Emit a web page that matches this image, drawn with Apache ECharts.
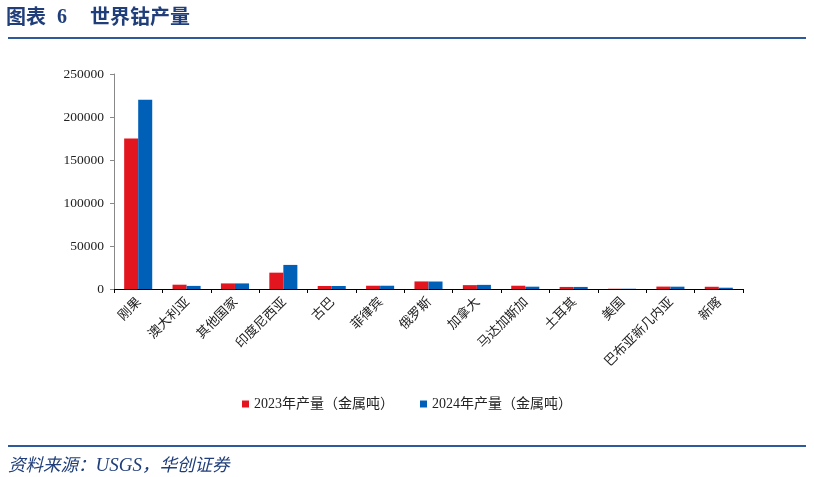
<!DOCTYPE html>
<html><head><meta charset="utf-8">
<script src="https://cdn.jsdelivr.net/npm/echarts@6/dist/echarts.min.js"></script>
<style>
html,body{margin:0;padding:0;background:#fff;}
#wrap{position:relative;width:814px;height:477px;overflow:hidden;}
#chart{position:absolute;left:0;top:0;width:814px;height:477px;}
.t{position:absolute;top:4px;font-family:"Noto Sans CJK SC","Liberation Serif",serif;font-weight:bold;font-size:20px;line-height:24px;color:#1F3E7A;white-space:nowrap;}
.line1{position:absolute;left:8px;top:37px;width:798px;height:2px;background:#2E5A9C;}
.line2{position:absolute;left:8px;top:445px;width:798px;height:2px;background:#2E5A9C;}
.src{position:absolute;left:8px;top:452px;font-family:"Noto Sans CJK SC","Liberation Serif",serif;font-style:italic;font-size:17.5px;line-height:24px;color:#1F3E7A;white-space:nowrap;}
</style></head>
<body><div id="wrap">
<div id="chart"></div>
<div class="t" style="left:6px">图表</div>
<div class="t" style="left:57px;font-family:'Liberation Serif',serif">6</div>
<div class="t" style="left:90px">世界钴产量</div>
<div class="line1"></div>
<div class="line2"></div>
<div class="src">资料来源：<span style="font-family:'Liberation Serif',serif;font-size:19px">USGS</span>，华创证券</div>
</div>
<script>
const categories = ["刚果","澳大利亚","其他国家","印度尼西亚","古巴","菲律宾","俄罗斯","加拿大","马达加斯加","土耳其","美国","巴布亚新几内亚","新喀"];
const series2023 = [175000,5000,6500,19000,3500,3800,8800,4500,3800,2400,300,2800,2600];
const series2024 = [220000,3600,6500,28000,3500,3800,8700,4800,2700,2400,300,2700,1500];
const seriesNames = ["2023年产量（金属吨）","2024年产量（金属吨）"];
const yTicks = [0,50000,100000,150000,200000,250000];

const chart = echarts.init(document.getElementById('chart'));
const font = '"Liberation Serif","Noto Sans CJK SC",serif';
chart.setOption({
  animation:false,
  grid:{left:114,right:71,top:74,bottom:188,containLabel:false},
  legend:{
    bottom:61,left:'center',itemWidth:7,itemHeight:7,itemGap:26,icon:'rect',
    textStyle:{fontFamily:font,fontSize:14,color:'#222'},
    data:seriesNames
  },
  xAxis:{
    type:'category',data:categories,
    axisLine:{lineStyle:{color:'#000',width:1}},
    axisTick:{show:true,alignWithLabel:false,length:4,lineStyle:{color:'#000'}},
    axisLabel:{rotate:45,interval:0,fontFamily:'"Noto Sans CJK SC",serif',fontSize:13,color:'#222',margin:10}
  },
  yAxis:{
    type:'value',min:yTicks[0],max:yTicks[yTicks.length-1],interval:50000,
    splitLine:{show:false},
    axisLine:{show:true,lineStyle:{color:'#888'}},
    axisTick:{show:true,length:4,lineStyle:{color:'#888'}},
    axisLabel:{fontFamily:font,fontSize:13.5,color:'#222',margin:10,formatter:function(v){return String(v);}}
  },
  series:[
    {name:seriesNames[0],type:'bar',data:series2023,barGap:'0%',barCategoryGap:'42%',itemStyle:{color:'#E3161F'}},
    {name:seriesNames[1],type:'bar',data:series2024,itemStyle:{color:'#0060B8'}}
  ]
});
</script>
</body></html>
